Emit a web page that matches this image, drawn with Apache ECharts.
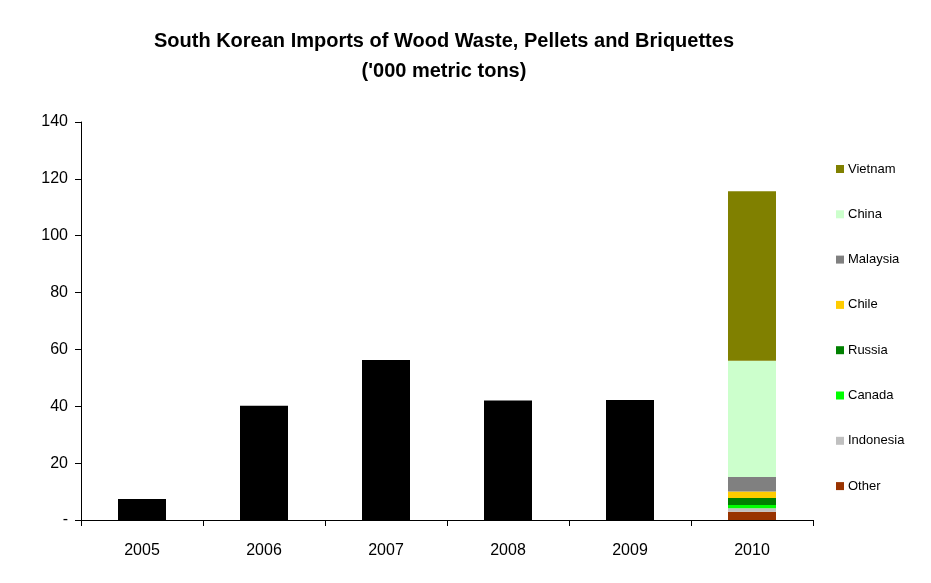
<!DOCTYPE html>
<html>
<head>
<meta charset="utf-8">
<script src="https://cdn.jsdelivr.net/npm/echarts@6/dist/echarts.min.js"></script>
<style>html,body{margin:0;padding:0;background:#fff;}#c{width:931px;height:583px;}</style>
</head>
<body>
<div id="c"></div>
<script>
const years = ['2005', '2006', '2007', '2008', '2009', '2010'];
const totalImports = [7.4, 40.2, 56.3, 42.0, 42.2, null];
const other     = [null, null, null, null, null, 2.9];
const indonesia = [null, null, null, null, null, 1.2];
const canada    = [null, null, null, null, null, 1.2];
const russia    = [null, null, null, null, null, 2.4];
const chile     = [null, null, null, null, null, 2.3];
const malaysia  = [null, null, null, null, null, 5.1];
const china     = [null, null, null, null, null, 40.9];
const vietnam   = [null, null, null, null, null, 59.6];
const legendOrder = ['Vietnam', 'China', 'Malaysia', 'Chile', 'Russia', 'Canada', 'Indonesia', 'Other'];

const stackSeries = [
  ['Other', other, '#993300'],
  ['Indonesia', indonesia, '#C0C0C0'],
  ['Canada', canada, '#00FF00'],
  ['Russia', russia, '#008000'],
  ['Chile', chile, '#FFCC00'],
  ['Malaysia', malaysia, '#808080'],
  ['China', china, '#CCFFCC'],
  ['Vietnam', vietnam, '#808000']
];

const series = [{
  name: 'Total', type: 'bar', stack: 'a', data: totalImports, barWidth: 48,
  itemStyle: { color: '#000000' }
}].concat(stackSeries.map(s => ({
  name: s[0], type: 'bar', stack: 'a', data: s[1], barWidth: 48,
  itemStyle: { color: s[2] }
})));

const chart = echarts.init(document.getElementById('c'), null, { renderer: 'canvas' });
chart.setOption({
  animation: false,
  backgroundColor: '#ffffff',
  title: {
    text: "South Korean Imports of Wood Waste, Pellets and Briquettes\n('000 metric tons)",
    left: 439, top: 21, textAlign: 'center',
    textStyle: { fontFamily: 'Liberation Sans, Arial', fontWeight: 'bold', fontSize: 20, lineHeight: 30, color: '#000' }
  },
  legend: {
    orient: 'vertical', left: 831, top: 157,
    data: legendOrder,
    itemWidth: 8, itemHeight: 8, itemGap: 31.3,
    icon: 'rect',
    textStyle: { fontFamily: 'Liberation Sans, Arial', fontSize: 13, color: '#000', lineHeight: 14, padding: [0, 0, 0, -1] }
  },
  grid: { left: 81, right: 118, top: 122, bottom: 63 },
  xAxis: {
    type: 'category', data: years,
    axisLine: { lineStyle: { color: '#000', width: 1 } },
    axisTick: { show: true, alignWithLabel: false, length: 6, lineStyle: { color: '#000' } },
    axisLabel: { color: '#000', fontFamily: 'Liberation Sans, Arial', fontSize: 16, margin: 23 }
  },
  yAxis: {
    type: 'value', min: 0, max: 140, interval: 20,
    axisLine: { show: true, lineStyle: { color: '#000', width: 1 } },
    axisTick: { show: true, length: 6, lineStyle: { color: '#000' } },
    splitLine: { show: false },
    axisLabel: {
      color: '#000', fontFamily: 'Liberation Sans, Arial', fontSize: 16, margin: 13,
      formatter: v => v === 0 ? '-' : String(v)
    }
  },
  series: series
});
</script>
</body>
</html>
